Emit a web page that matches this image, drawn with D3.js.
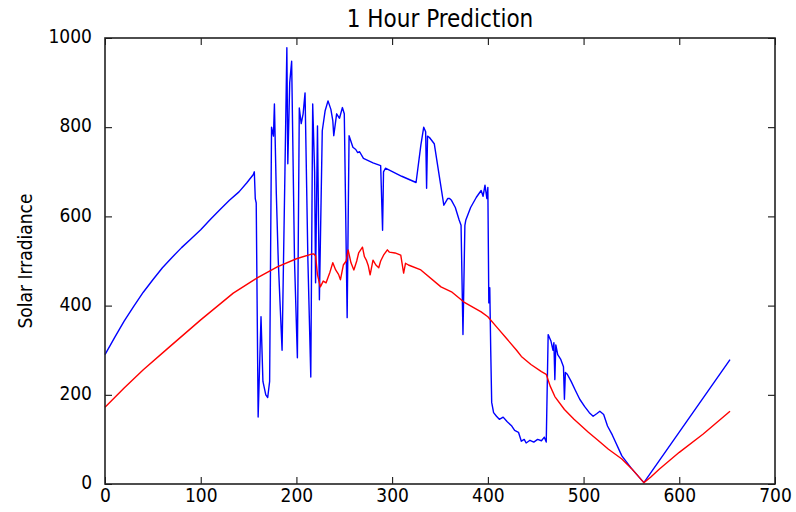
<!DOCTYPE html>
<html>
<head>
<meta charset="utf-8">
<script src="https://cdn.jsdelivr.net/npm/d3@7"></script>
<style>
  body { margin: 0; background: #fff; overflow: hidden; }
  svg { display: block; }
  text { font-family: "DejaVu Sans Condensed", "DejaVu Sans", sans-serif; fill: #000; }
</style>
</head>
<body>
<div id="chart"></div>
<script>
// 1 hour prediction: measured (blue) vs predicted (red) irradiance

const TITLE = "1 Hour Prediction";
const Y_LABEL = "Solar Irradiance";
const X_TICKS = [0, 100, 200, 300, 400, 500, 600, 700];
const Y_TICKS = [0, 200, 400, 600, 800, 1000];

// [sample index, irradiance]
const actualSeries = [
  [0, 290], [10, 328], [20, 365], [30, 398], [40, 430], [50, 458], [60, 485],
  [70, 508], [80, 530], [90, 550], [100, 570], [110, 593], [120, 615],
  [130, 636], [140, 655], [148, 675], [155, 694], [156, 700], [157, 640],
  [158, 630], [160, 150], [163, 375],
  [165, 230], [168, 200], [170, 194], [172, 230], [174, 800], [176, 780],
  [177, 852], [179, 650], [181, 502], [183, 400], [185, 300], [188, 700],
  [190, 978], [191, 718], [193, 900], [195, 948], [198, 500], [201, 283],
  [203, 843], [205, 808], [207, 830], [209, 877], [212, 500], [215, 240],
  [217, 852], [219, 700], [220, 451], [222, 803], [224, 413], [227, 792],
  [230, 837], [233, 859], [236, 840], [238, 815], [239, 781], [242, 830],
  [245, 820], [248, 844], [250, 830], [253, 373], [255, 781], [259, 755],
  [262, 750], [264, 743], [266, 745], [270, 730], [280, 720], [288, 714],
  [290, 569], [291, 700], [293, 708], [310, 690], [325, 676], [330, 760],
  [333, 800], [335, 790], [336, 663], [337, 780], [339, 777], [344, 763],
  [350, 680], [354, 625], [358, 640], [360, 640], [362, 636], [366, 620],
  [370, 592], [372, 580], [374, 335], [376, 580], [377, 592], [382, 620],
  [388, 643], [393, 658], [395, 645], [397, 670], [399, 640], [400, 665],
  [401, 406], [402, 440], [403, 300], [404, 183], [406, 160], [409, 152],
  [412, 145], [416, 150], [420, 140], [425, 130], [428, 120], [432, 116],
  [435, 96], [438, 100], [440, 92], [444, 98], [448, 94], [452, 100],
  [456, 97], [459, 105], [461, 94], [463, 335], [466, 320], [468, 300],
  [469, 317], [470, 234], [471, 312], [473, 290], [476, 280], [479, 263],
  [480, 190], [481, 250], [483, 246], [487, 230], [491, 212], [496, 190],
  [501, 174], [506, 160], [510, 152], [514, 158], [517, 163], [521, 156],
  [525, 130], [530, 110], [540, 63], [550, 35], [563, 3], [653, 279]
];

const predictedSeries = [
  [0, 172], [20, 215], [40, 256], [65, 303], [100, 368], [134, 428],
  [159, 462], [180, 487], [200, 505], [215, 515], [218, 516], [220, 512],
  [222, 469], [225, 442], [228, 455], [231, 451], [235, 475], [238, 496],
  [241, 480], [244, 470], [246, 458], [249, 491], [252, 500], [254, 525],
  [257, 496], [260, 480], [263, 500], [265, 518], [269, 531], [271, 510],
  [273, 502], [275, 490], [277, 469], [280, 502], [283, 491], [286, 485],
  [288, 500], [291, 513], [295, 525], [297, 520], [303, 518], [309, 513],
  [312, 473], [314, 495], [317, 491], [330, 480], [351, 442], [362, 431],
  [375, 408], [393, 386], [400, 375], [410, 350], [420, 325], [430, 300],
  [435, 286], [445, 268], [456, 252], [461, 246], [465, 220], [470, 196],
  [480, 167], [490, 145], [505, 116], [515, 98], [526, 78], [540, 56],
  [550, 35], [563, 3], [570, 15], [579, 33], [600, 71], [625, 112],
  [653, 163]
];

const width = 796;
const height = 512;
const margin = { top: 38, right: 21, bottom: 28, left: 105 };
const innerWidth = width - margin.left - margin.right;
const innerHeight = height - margin.top - margin.bottom;

const svg = d3.select("#chart")
  .append("svg")
  .attr("width", width)
  .attr("height", height);

const g = svg.append("g")
  .attr("transform", `translate(${margin.left},${margin.top})`);

const x = d3.scaleLinear().domain([0, 700]).range([0, innerWidth]);
const y = d3.scaleLinear().domain([0, 1000]).range([innerHeight, 0]);

const line = d3.line()
  .x(d => x(d[0]))
  .y(d => y(d[1]));

g.append("path")
  .datum(actualSeries)
  .attr("fill", "none")
  .attr("stroke", "#0000ff")
  .attr("stroke-width", 1.4)
  .attr("stroke-linejoin", "round")
  .attr("d", line);

g.append("path")
  .datum(predictedSeries)
  .attr("fill", "none")
  .attr("stroke", "#ff0000")
  .attr("stroke-width", 1.4)
  .attr("stroke-linejoin", "round")
  .attr("d", line);

// ticks point inward on all four sides (classic matplotlib look)
const tickLen = 7;
const fmt = d3.format("d");

const xBottom = g.append("g")
  .attr("transform", `translate(0,${innerHeight})`)
  .call(d3.axisBottom(x).tickValues(X_TICKS).tickSize(-tickLen).tickPadding(4).tickFormat(fmt));
const xTop = g.append("g")
  .call(d3.axisTop(x).tickValues(X_TICKS).tickSize(-tickLen));
const yLeft = g.append("g")
  .call(d3.axisLeft(y).tickValues(Y_TICKS).tickSize(-tickLen).tickPadding(13).tickFormat(fmt));
const yRight = g.append("g")
  .attr("transform", `translate(${innerWidth},0)`)
  .call(d3.axisRight(y).tickValues(Y_TICKS).tickSize(-tickLen));

// top and right carry tick marks only
xTop.selectAll("text").remove();
yRight.selectAll("text").remove();

[xBottom, xTop, yLeft, yRight].forEach(ax => {
  ax.select(".domain").remove();
  ax.selectAll(".tick line").attr("stroke", "#000").attr("stroke-width", 1);
  ax.selectAll("text")
    .attr("font-family", "DejaVu Sans Condensed, DejaVu Sans, sans-serif")
    .attr("font-size", 19)
    .attr("fill", "#000");
});

yLeft.selectAll("text").attr("dy", "0.25em");

// frame
g.append("rect")
  .attr("width", innerWidth)
  .attr("height", innerHeight)
  .attr("fill", "none")
  .attr("stroke", "#222")
  .attr("stroke-width", 1.6);

svg.append("text")
  .attr("x", margin.left + innerWidth / 2)
  .attr("y", 27)
  .attr("text-anchor", "middle")
  .attr("font-size", 24)
  .text(TITLE);

svg.append("text")
  .attr("transform", `translate(32,${margin.top + innerHeight / 2}) rotate(-90)`)
  .attr("text-anchor", "middle")
  .attr("font-family", "DejaVu Sans, sans-serif")
  .attr("font-size", 19)
  .text(Y_LABEL);
</script>
</body>
</html>
